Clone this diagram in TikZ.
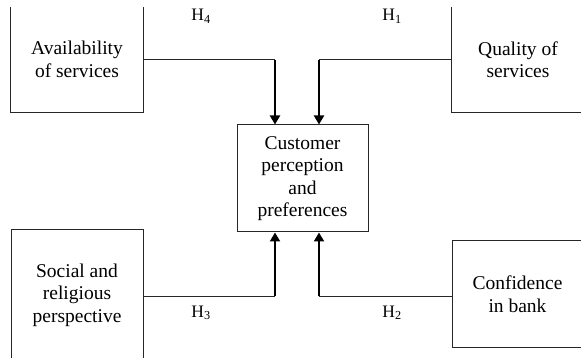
\documentclass[tikz,border=0pt]{standalone}
\usepackage{fontspec}
\setmainfont{Liberation Serif}
\usetikzlibrary{arrows.meta}
\begin{document}
\begin{tikzpicture}[x=1pt,y=-1pt,
  box/.style={inner sep=0pt, align=center, font=\fontsize{19.5}{22.5}\selectfont},
  boxline/.style={line width=1pt, draw=black!85},
  hlink/.style={line width=1pt, draw=black!85},
  vlink/.style={line width=2pt, -{Triangle[width=10pt,length=9pt]}},
  hlabel/.style={font=\fontsize{17.5}{20}\selectfont, anchor=base, inner sep=0pt}]
\useasboundingbox (0,0) rectangle (581,358);
\clip (0,7) rectangle (581,358);
% boxes
\node[box, minimum width=132pt, minimum height=105pt] (avail) at (77,59.5) {Availability\\of services};
\node[box, minimum width=132pt, minimum height=105pt] (quality) at (518,59.5) {Quality of\\services};
\draw[boxline] (avail.north west) -- (avail.south west) -- (avail.south east) -- (avail.north east);
\draw[boxline] (quality.north west) -- (quality.south west) -- (quality.south east) -- (quality.north east);
\node[box, boxline, draw, minimum width=131pt, minimum height=107pt] (cust) at (302.5,178.5) {Customer\\perception\\and\\preferences};
\node[box, boxline, draw, minimum width=132pt, minimum height=130pt] (social) at (77,295) {Social and\\religious\\perspective};
\node[box, boxline, draw, minimum width=131pt, minimum height=106pt] (conf) at (517.5,294) {Confidence\\in bank};
% bends
\coordinate (k4) at (275,60);
\coordinate (k1) at (319,60);
\coordinate (k3) at (275,296);
\coordinate (k2) at (319,296);
% connectors
\draw[hlink] (avail.east |- k4) -- (k4);
\draw[vlink] (k4) -- (k4 |- cust.north);
\draw[hlink] (quality.west |- k1) -- (k1);
\draw[vlink] (k1) -- (k1 |- cust.north);
\draw[hlink] (social.east |- k3) -- (k3);
\draw[vlink] (k3) -- (k3 |- cust.south);
\draw[hlink] (conf.west |- k2) -- (k2);
\draw[vlink] (k2) -- (k2 |- cust.south);
% labels
\node[hlabel] (h4) at (201,20.5) {H\textsubscript{4}};
\node[hlabel] (h1) at (392,20.5) {H\textsubscript{1}};
\node[hlabel] (h3) at (201,317) {H\textsubscript{3}};
\node[hlabel] (h2) at (392,317) {H\textsubscript{2}};
\end{tikzpicture}
\end{document}
